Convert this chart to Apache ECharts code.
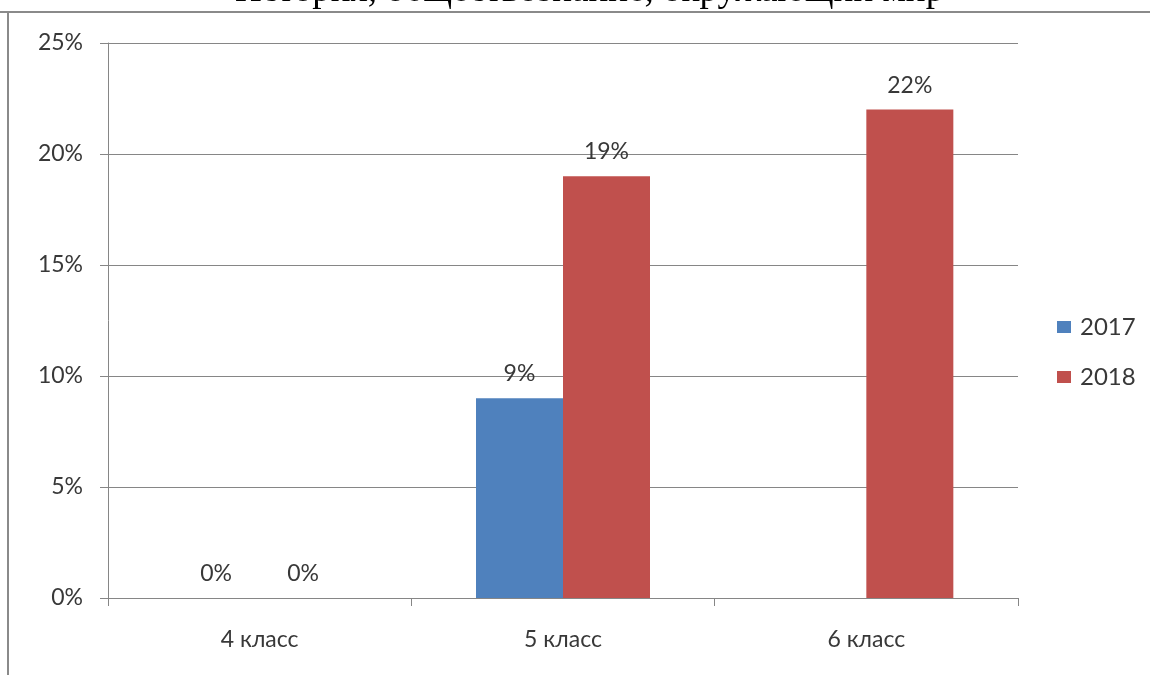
<!DOCTYPE html>
<html>
<head>
<meta charset="utf-8">
<script src="https://cdn.jsdelivr.net/npm/echarts@6/dist/echarts.min.js"></script>
<style>
html,body{margin:0;padding:0;background:#fff;}
#c{width:1150px;height:675px;}
</style>
</head>
<body>
<div id="c"></div>
<script>
const titleText = 'История, обществознание, окружающий мир';
const categories = ['4 класс', '5 класс', '6 класс'];
const seriesNames = ['2017', '2018'];
const values2017 = [0, 9, null];
const values2018 = [0, 19, 22];
const yTicks = [0, 5, 10, 15, 20, 25];

const FONT = 'Lato';
const TXT = '#383838';

const chart = echarts.init(document.getElementById('c'), null, {renderer: 'canvas'});
const labelCfg = {
  show: true,
  position: 'top',
  distance: 13,
  color: TXT,
  fontFamily: FONT,
  fontSize: 23,
  formatter: p => p.value + '%'
};
chart.setOption({
  backgroundColor: '#fff',
  animation: false,
  title: {
    text: titleText,
    left: 230,
    top: -32,
    textStyle: {fontFamily: 'Liberation Serif', fontSize: 37, fontWeight: 'normal', color: '#000'}
  },
  graphic: [
    {type: 'rect', shape: {x: 0, y: 13, width: 1150, height: 662}, style: {fill: '#fff'}, z: -1, silent: true},
    {type: 'line', shape: {x1: 0, y1: 12, x2: 1150, y2: 12}, style: {stroke: '#8a8a8a', lineWidth: 2}, z: 10},
    {type: 'line', shape: {x1: 8, y1: 12, x2: 8, y2: 675}, style: {stroke: '#8a8a8a', lineWidth: 2}, z: 10}
  ],
  legend: {
    orient: 'vertical',
    left: 1052,
    top: 310,
    itemWidth: 14,
    itemHeight: 12,
    itemGap: 26,
    icon: 'rect',
    textStyle: {fontFamily: FONT, fontSize: 24, color: TXT, padding: [0, 0, 0, 4]},
    data: seriesNames
  },
  grid: {left: 108, right: 132, top: 43, bottom: 77, containLabel: false},
  xAxis: {
    type: 'category',
    data: categories,
    axisLine: {lineStyle: {color: '#868686', width: 1}},
    axisTick: {show: true, alignWithLabel: false, length: 8, lineStyle: {color: '#868686'}},
    axisLabel: {color: TXT, fontFamily: FONT, fontSize: 23, margin: 30}
  },
  yAxis: {
    type: 'value',
    min: 0,
    max: 25,
    interval: 5,
    axisLine: {show: true, lineStyle: {color: '#868686', width: 1}},
    axisTick: {show: true, length: 8, lineStyle: {color: '#868686'}},
    axisLabel: {color: TXT, fontFamily: FONT, fontSize: 23, margin: 25, formatter: v => v + '%'},
    splitLine: {show: true, lineStyle: {color: '#868686', width: 1}}
  },
  series: [
    {name: seriesNames[0], type: 'bar', data: values2017, barWidth: 87, barGap: '0%',
     itemStyle: {color: '#4F81BD'}, label: labelCfg},
    {name: seriesNames[1], type: 'bar', data: values2018, barWidth: 87, barGap: '0%',
     itemStyle: {color: '#C0504D'}, label: labelCfg}
  ]
});
</script>
</body>
</html>
